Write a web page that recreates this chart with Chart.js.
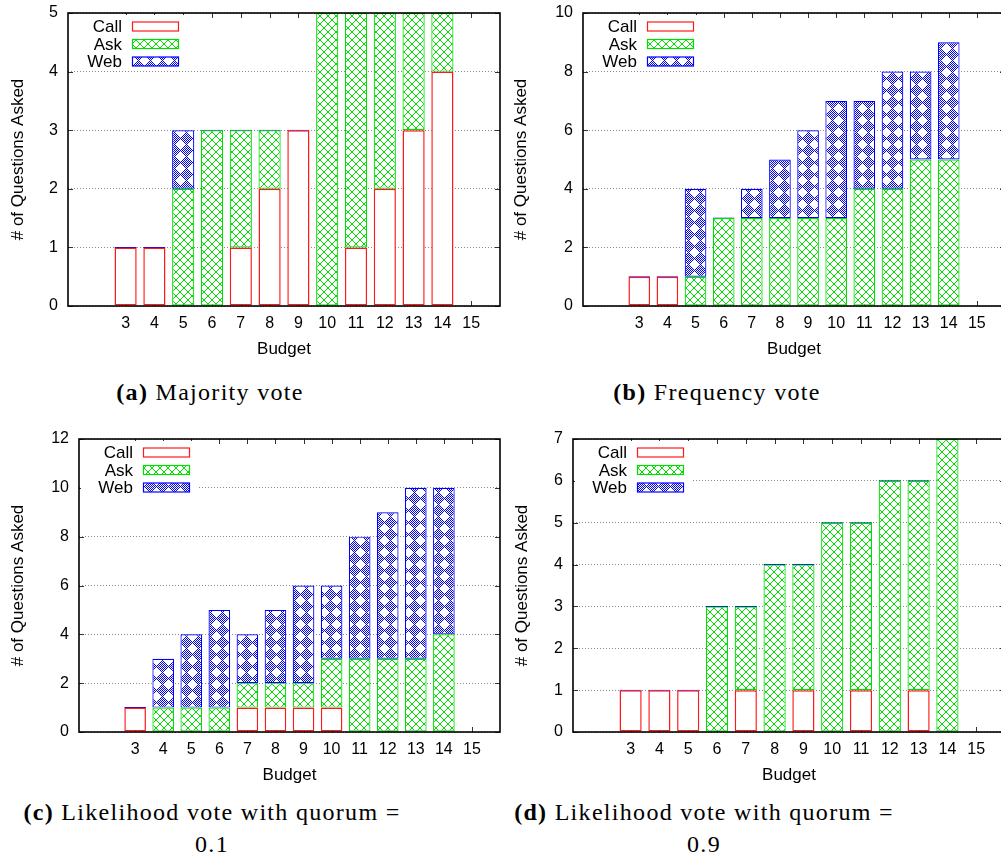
<!DOCTYPE html>
<html><head><meta charset="utf-8">
<script src="https://cdn.jsdelivr.net/npm/chart.js@4/dist/chart.umd.min.js"></script>
<style>
html,body{margin:0;padding:0;background:#fff;width:1001px;height:857px;overflow:hidden;position:relative;}
canvas{position:absolute;}
.cap{position:absolute;font-family:'Liberation Serif','Times New Roman',serif;font-size:24px;letter-spacing:1.3px;color:#000;text-align:center;white-space:nowrap;line-height:32px;width:440px;}
</style></head><body>
<canvas id="ca" width="502" height="362" style="left:0;top:0"></canvas>
<canvas id="cb" width="505" height="362" style="left:502px;top:0"></canvas>
<canvas id="cc" width="502" height="370" style="left:0;top:420px"></canvas>
<canvas id="cd" width="505" height="370" style="left:502px;top:420px"></canvas>
<div class="cap" style="left:-10px;top:376px"><b>(a)</b> Majority vote</div>
<div class="cap" style="left:497px;top:376px"><b>(b)</b> Frequency vote</div>
<div class="cap" style="left:-8px;top:796px"><b>(c)</b> Likelihood vote with quorum =<br>0.1</div>
<div class="cap" style="left:484px;top:796px"><b>(d)</b> Likelihood vote with quorum =<br>0.9</div>
<script>
// Tick labels on the category axis (positions 1..16; only 3..15 labelled)
const budgetLabels = ['', '', '3', '4', '5', '6', '7', '8', '9', '10', '11', '12', '13', '14', '15', ''];
const seriesNames = ['Call', 'Ask', 'Web'];
// Values for budgets 3..14
const majorityCall = [1, 1, 0, 0, 1, 2, 3, 0, 1, 2, 3, 4];
const majorityAsk  = [0, 0, 2, 3, 2, 1, 0, 5, 4, 3, 2, 1];
const majorityWeb  = [0, 0, 1, 0, 0, 0, 0, 0, 0, 0, 0, 0];

const frequencyCall = [1, 1, 0, 0, 0, 0, 0, 0, 0, 0, 0, 0];
const frequencyAsk  = [0, 0, 1, 3, 3, 3, 3, 3, 4, 4, 5, 5];
const frequencyWeb  = [0, 0, 3, 0, 1, 2, 3, 4, 3, 4, 3, 4];

const quorum01Call = [1, 0, 0, 0, 1, 1, 1, 1, 0, 0, 0, 0];
const quorum01Ask  = [0, 1, 1, 1, 1, 1, 1, 2, 3, 3, 3, 4];
const quorum01Web  = [0, 2, 3, 4, 2, 3, 4, 3, 5, 6, 7, 6];

const quorum09Call = [1, 1, 1, 0, 1, 0, 1, 0, 1, 0, 1, 0];
const quorum09Ask  = [0, 0, 0, 3, 2, 4, 3, 5, 4, 6, 5, 7];
const quorum09Web  = [0, 0, 0, 0, 0, 0, 0, 0, 0, 0, 0, 0];

const yAxisMax  = [5, 10, 12, 7];
const yAxisStep = [1, 2, 2, 1];

const pad = v => [null, null, ...v, null, null];

function makePattern(size, color, fn) {
  const c = document.createElement('canvas');
  c.width = c.height = size;
  const g = c.getContext('2d');
  g.fillStyle = '#fff'; g.fillRect(0, 0, size, size);
  g.fillStyle = color;
  for (let y = 0; y < size; y++) for (let x = 0; x < size; x++) if (fn(x, y)) g.fillRect(x, y, 1, 1);
  return g.createPattern(c, 'repeat');
}
const askPattern = makePattern(8, '#00e000', (x, y) => (x === y || x === 7 - y));
const webPattern = makePattern(12, '#0000f0', (x, y) => {
  const d = Math.abs(x - 6) + Math.abs(y - 6);
  return d === 6 || d === 2 || d === 0 || (d === 4 && (x + y) % 2 === 0);
});

const FONT = "'Liberation Sans', Arial, sans-serif";

const tickPlugin = {
  id: 'gpTicks',
  beforeDatasetsDraw(chart) {
    const {ctx, chartArea: a, scales: {x, y}} = chart;
    ctx.save();
    ctx.strokeStyle = '#333'; ctx.lineWidth = 1;
    ctx.beginPath();
    y.ticks.forEach(t => {
      const py = Math.round(y.getPixelForValue(t.value)) + 0.5;
      ctx.moveTo(a.left, py); ctx.lineTo(a.left + 5, py);
      ctx.moveTo(a.right, py); ctx.lineTo(a.right - 5, py);
    });
    x.ticks.forEach((t, i) => {
      if (!budgetLabels[i]) return;
      const px = Math.round(x.getPixelForValue(i)) + 0.5;
      ctx.moveTo(px, a.top); ctx.lineTo(px, a.top + 5);
      ctx.moveTo(px, a.bottom); ctx.lineTo(px, a.bottom - 5);
    });
    ctx.stroke();
    ctx.restore();
  }
};

const legendPlugin = {
  id: 'gpLegend',
  afterDraw(chart) {
    const {ctx, chartArea: a} = chart;
    ctx.save();
    ctx.fillStyle = '#fff';
    ctx.fillRect(a.left + 2, a.top + 2, 118, 55);
    chart.data.datasets.forEach((ds, i) => {
      const yc = a.top + 13.5 + i * 17.5;
      ctx.font = '17px ' + FONT;
      ctx.textAlign = 'right'; ctx.textBaseline = 'middle';
      ctx.fillStyle = '#000';
      ctx.fillText(ds.label, a.left + 54, yc + 1);
      ctx.fillStyle = ds.backgroundColor;
      ctx.fillRect(a.left + 64, yc - 4.5, 47, 9);
      ctx.strokeStyle = ds.borderColor; ctx.lineWidth = 1.2;
      ctx.strokeRect(a.left + 64.5, yc - 4.5, 46, 9);
    });
    ctx.restore();
  }
};

const framePlugin = {
  id: 'gpFrame',
  afterDraw(chart) {
    const {ctx, chartArea: a} = chart;
    ctx.save();
    ctx.strokeStyle = '#000'; ctx.lineWidth = 1.6;
    ctx.strokeRect(a.left, a.top, a.right - a.left, a.bottom - a.top);
    ctx.restore();
  }
};

function makeChart(id, call, ask, web, idx, dims) {
  const font = {family: FONT, size: 16};
  const tfont = {family: FONT, size: 17};
  new Chart(document.getElementById(id), {
    type: 'bar',
    data: {
      labels: budgetLabels,
      datasets: [
        {label: seriesNames[0], data: pad(call), backgroundColor: '#ffffff', borderColor: '#ff1a1a', borderWidth: 1.5, borderSkipped: false},
        {label: seriesNames[1], data: pad(ask), backgroundColor: askPattern, borderColor: '#00dd00', borderWidth: 1.2, borderSkipped: false},
        {label: seriesNames[2], data: pad(web), backgroundColor: webPattern, borderColor: '#0000ff', borderWidth: 1.2, borderSkipped: false, minBarLength: 1}
      ]
    },
    options: {
      responsive: false, animation: false, devicePixelRatio: 1,
      layout: {padding: {top: dims.top, right: 2, left: 0, bottom: 0}},
      plugins: {legend: {display: false}, tooltip: {enabled: false}},
      datasets: {bar: {barPercentage: 0.77, categoryPercentage: 1}},
      scales: {
        x: {
          stacked: true, offset: false,
          grid: {display: false, drawTicks: false},
          border: {display: false},
          ticks: {autoSkip: false, maxRotation: 0, minRotation: 0, padding: 8, color: '#000', font},
          title: {display: true, text: 'Budget', color: '#000', font: tfont, padding: {top: 0, bottom: dims.xtb}},
          afterFit(s) { s.height = dims.xh; s.paddingLeft = 0; s.paddingRight = 0; }
        },
        y: {
          stacked: true, min: 0, max: yAxisMax[idx],
          ticks: {stepSize: yAxisStep[idx], padding: 10, color: '#000', font},
          grid: {color: '#8a8a8a', lineWidth: 1, drawTicks: false},
          border: {display: false, dash: [1, 2]},
          title: {display: true, text: '# of Questions Asked', color: '#000', font: tfont, padding: dims.ytp},
          afterFit(s) { s.width = dims.yw; s.paddingTop = 0; s.paddingBottom = 0; }
        }
      }
    },
    plugins: [tickPlugin, legendPlugin, framePlugin]
  });
}

makeChart('ca', majorityCall, majorityAsk, majorityWeb, 0, {top: 13, yw: 68, xh: 56, xtb: 2, ytp: 8});
makeChart('cb', frequencyCall, frequencyAsk, frequencyWeb, 1, {top: 13, yw: 81, xh: 56, xtb: 2, ytp: 9});
makeChart('cc', quorum01Call, quorum01Ask, quorum01Web, 2, {top: 19, yw: 79, xh: 58, xtb: 4, ytp: 8});
makeChart('cd', quorum09Call, quorum09Ask, quorum09Web, 3, {top: 19, yw: 71, xh: 58, xtb: 4, ytp: 10});
</script>
</body></html>
